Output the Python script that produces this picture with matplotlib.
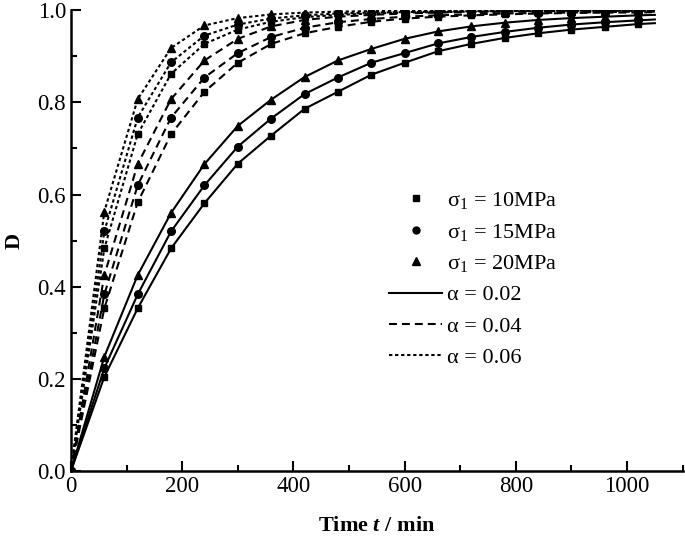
import matplotlib
matplotlib.use("Agg")
import matplotlib.pyplot as plt
from matplotlib.lines import Line2D
from matplotlib.ticker import MultipleLocator

plt.rcParams["font.family"] = ["Liberation Serif", "DejaVu Serif"]
plt.rcParams["mathtext.fontset"] = "custom"
plt.rcParams["mathtext.rm"] = "Liberation Serif"
plt.rcParams["mathtext.it"] = "Liberation Serif:italic"
plt.rcParams["mathtext.bf"] = "Liberation Serif:bold"
plt.rcParams["mathtext.bfit"] = "Liberation Serif:italic:bold"

# time (min); markers every 60 min, lines run on to 1050
time = [0, 60, 120, 180, 240, 300, 360, 420, 480, 540, 600, 660,
        720, 780, 840, 900, 960, 1020, 1050]

# alpha = 0.02 (solid)
d_a02_s10 = [0, 0.204, 0.353, 0.483, 0.581, 0.667, 0.728, 0.786, 0.823, 0.860, 0.886, 0.911,
             0.927, 0.940, 0.950, 0.958, 0.964, 0.970, 0.972]
d_a02_s15 = [0, 0.223, 0.383, 0.520, 0.620, 0.704, 0.765, 0.818, 0.854, 0.886, 0.907, 0.928,
             0.942, 0.953, 0.962, 0.969, 0.974, 0.978, 0.980]
d_a02_s20 = [0, 0.248, 0.425, 0.560, 0.666, 0.749, 0.806, 0.855, 0.891, 0.916, 0.938, 0.954,
             0.965, 0.973, 0.979, 0.983, 0.986, 0.989, 0.990]

# alpha = 0.04 (dashed)
d_a04_s10 = [0, 0.353, 0.583, 0.731, 0.823, 0.886, 0.927, 0.950, 0.964, 0.975, 0.982, 0.986,
             0.989, 0.991, 0.993, 0.994, 0.995, 0.995, 0.996]
d_a04_s15 = [0, 0.383, 0.620, 0.767, 0.854, 0.907, 0.942, 0.962, 0.974, 0.981, 0.986, 0.989,
             0.991, 0.993, 0.994, 0.995, 0.996, 0.997, 0.997]
d_a04_s20 = [0, 0.425, 0.666, 0.807, 0.891, 0.938, 0.965, 0.979, 0.986, 0.990, 0.993, 0.995,
             0.996, 0.997, 0.998, 0.998, 0.999, 0.999, 0.999]

# alpha = 0.06 (dotted)
d_a06_s10 = [0, 0.483, 0.731, 0.862, 0.927, 0.958, 0.975, 0.985, 0.990, 0.993, 0.995, 0.996,
             0.997, 0.998, 0.998, 0.999, 0.999, 0.999, 0.999]
d_a06_s15 = [0, 0.520, 0.767, 0.887, 0.945, 0.969, 0.982, 0.989, 0.993, 0.995, 0.996, 0.997,
             0.998, 0.998, 0.999, 0.999, 0.999, 0.999, 0.999]
d_a06_s20 = [0, 0.563, 0.807, 0.918, 0.967, 0.983, 0.991, 0.995, 0.997, 0.998, 0.999, 0.999,
             0.999, 1.0, 1.0, 1.0, 1.0, 1.0, 1.0]

sigma_labels = [r"σ$_1$ = 10MPa", r"σ$_1$ = 15MPa", r"σ$_1$ = 20MPa"]
alpha_labels = ["α = 0.02", "α = 0.04", "α = 0.06"]

LW = 1.5
dash = {"solid": None, "dashed": (3.8, 2.4), "dotted": (1.6, 1.3)}
markers = {"s10": ("s", 5), "s15": ("o", 5.5), "s20": ("^", 6)}

series = [
    (d_a02_s10, "s10", "solid"), (d_a02_s15, "s15", "solid"), (d_a02_s20, "s20", "solid"),
    (d_a04_s10, "s10", "dashed"), (d_a04_s15, "s15", "dashed"), (d_a04_s20, "s20", "dashed"),
    (d_a06_s10, "s10", "dotted"), (d_a06_s15, "s15", "dotted"), (d_a06_s20, "s20", "dotted"),
]

fig = plt.figure(figsize=(6.85, 5.4), dpi=100)
ax = fig.add_axes([0.1036, 0.128, 0.893, 0.853])

for vals, sk, style in series:
    m, ms = markers[sk]
    ln, = ax.plot(time, vals, color="black", lw=LW, marker=m, ms=ms,
                  markevery=list(range(len(time) - 1)))
    if dash[style] is not None:
        ln.set_dashes(dash[style])

ax.set_xlim(0, 1100)
ax.set_ylim(0, 1.0)
ax.xaxis.set_major_locator(MultipleLocator(200))
ax.xaxis.set_minor_locator(MultipleLocator(100))
ax.yaxis.set_major_locator(MultipleLocator(0.2))
ax.yaxis.set_minor_locator(MultipleLocator(0.1))
ax.set_yticklabels([f"{v:.1f}" for v in ax.get_yticks()])
ax.tick_params(which="both", direction="in", labelsize=16.5, width=1.5)
ax.tick_params(which="major", length=7)
ax.tick_params(which="minor", length=4)
for side in ("top", "right"):
    ax.spines[side].set_visible(False)
for side in ("left", "bottom"):
    ax.spines[side].set_linewidth(1.8)

ax.set_xlabel(r"Time $\mathbfit{t}$ / min", fontsize=16, fontweight="bold", labelpad=14)
ax.set_ylabel("D", fontsize=16, fontweight="bold", labelpad=9)

handles = [
    Line2D([], [], ls="none", marker="s", ms=4.5, color="black"),
    Line2D([], [], ls="none", marker="o", ms=5, color="black"),
    Line2D([], [], ls="none", marker="^", ms=5.5, color="black"),
    Line2D([], [], color="black", lw=LW),
    Line2D([], [], color="black", lw=LW, dashes=dash["dashed"]),
    Line2D([], [], color="black", lw=LW, dashes=dash["dotted"]),
]
ax.legend(handles, sigma_labels + alpha_labels, loc="upper left",
          bbox_to_anchor=(0.52, 0.61), frameon=False, fontsize=16,
          handlelength=2.4, handletextpad=0.2, labelspacing=0.48,
          borderpad=0, borderaxespad=0)

fig.savefig("out.png", dpi=100)
